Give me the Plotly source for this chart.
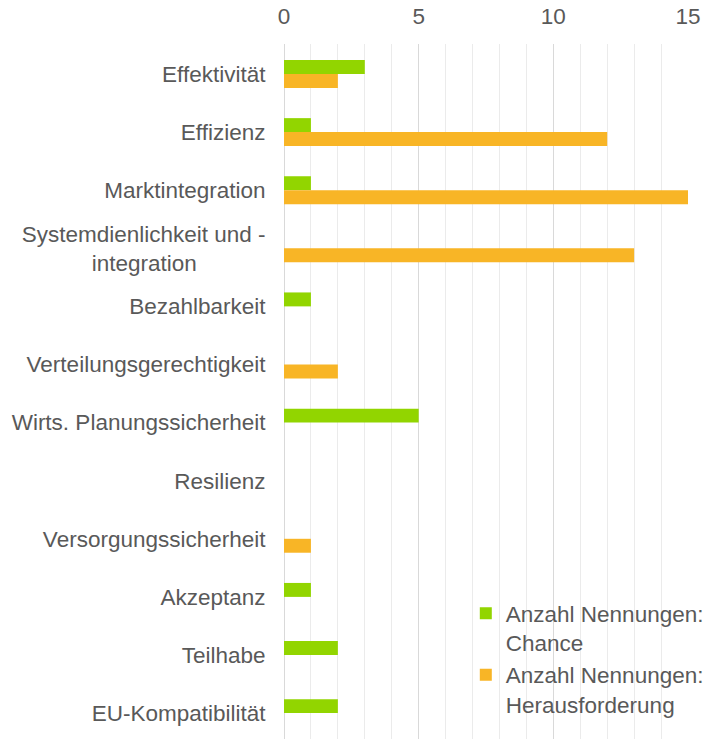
import plotly.graph_objects as go

categories = [
    "Effektivität",
    "Effizienz",
    "Marktintegration",
    "Systemdienlichkeit und -<br>integration" + "\u00a0" * 11,
    "Bezahlbarkeit",
    "Verteilungsgerechtigkeit",
    "Wirts. Planungssicherheit",
    "Resilienz",
    "Versorgungssicherheit",
    "Akzeptanz",
    "Teilhabe",
    "EU-Kompatibilität",
]
chance = [3, 1, 1, 0, 1, 0, 5, 0, 0, 1, 2, 2]
herausforderung = [2, 12, 15, 13, 0, 2, 0, 0, 1, 0, 0, 0]
series_names = ["Anzahl Nennungen:<br>Chance", "Anzahl Nennungen:<br>Herausforderung"]
x_ticks = [0, 5, 10, 15]

GREEN = "#92D500"
ORANGE = "#F8B526"
TEXT = "#595959"
FONT = "Liberation Sans, Arial, sans-serif"
FS = 22.5

fig = go.Figure()
fig.add_trace(go.Bar(y=categories, x=chance, orientation="h", name=series_names[0],
                     marker=dict(color=GREEN, line=dict(width=0))))
fig.add_trace(go.Bar(y=categories, x=herausforderung, orientation="h", name=series_names[1],
                     marker=dict(color=ORANGE, line=dict(width=0))))

fig.update_layout(
    width=706, height=739,
    margin=dict(l=284, r=18, t=44, b=0, autoexpand=False),
    paper_bgcolor="white", plot_bgcolor="white",
    barmode="group", bargap=0.52, bargroupgap=0,
    font=dict(family=FONT, color=TEXT, size=FS),
    showlegend=True,
    legend=dict(x=0.45, y=0.2115, xanchor="left", yanchor="top", valign="top",
                bgcolor="rgba(255,255,255,0)", font=dict(size=FS, color=TEXT),
                itemwidth=30, traceorder="normal"),
    xaxis=dict(side="top", range=[0, 15], tickvals=x_ticks, ticktext=[str(v) for v in x_ticks],
               showgrid=True, gridcolor="#D9D9D9", gridwidth=1,
               minor=dict(dtick=1, showgrid=True, gridcolor="#EBEBEB", gridwidth=1),
               zeroline=True, zerolinecolor="#D9D9D9", zerolinewidth=1,
               showline=False, ticks="outside", ticklen=10, tickcolor="rgba(0,0,0,0)",
               tickfont=dict(size=FS, color=TEXT), fixedrange=True, automargin=False),
    yaxis=dict(range=[11.446, -0.516], showgrid=False, zeroline=False, showline=False,
               ticks="outside", ticklen=13, tickcolor="rgba(0,0,0,0)",
               tickfont=dict(size=FS, color=TEXT), fixedrange=True, automargin=False),
)

fig.write_html(
    "out.html",
    config={"displayModeBar": False},
    post_script="document.body.style.margin='0';document.body.style.overflow='hidden';",
)
